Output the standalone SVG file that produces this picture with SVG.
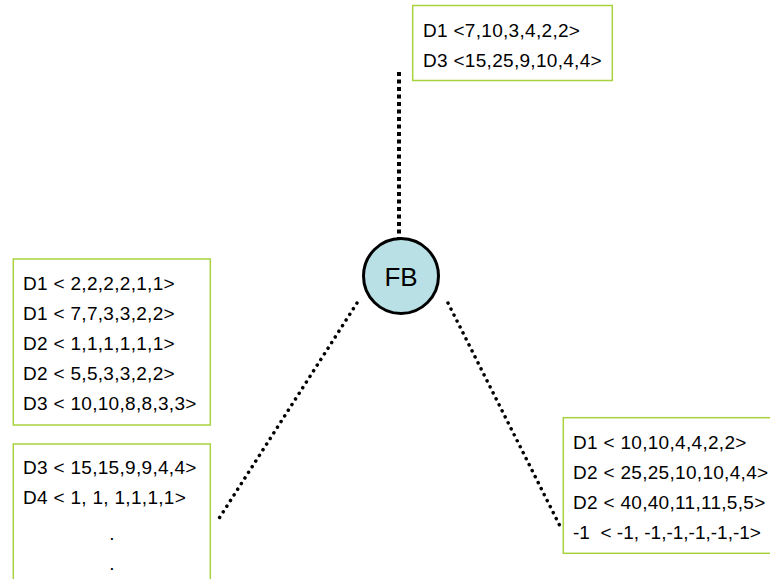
<svg xmlns="http://www.w3.org/2000/svg" width="770" height="579" viewBox="0 0 770 579">
  <style>
    .box { fill: #ffffff; stroke: #a8d23e; stroke-width: 1.5; }
    .lbl { font-family: "Liberation Sans", Arial, sans-serif; font-size: 19px; fill: #000000; letter-spacing: 0.3px; }
    .tight { letter-spacing: 0; }
    .dot { fill: none; stroke: #000000; stroke-width: 3.5; stroke-linecap: round; stroke-dasharray: 0.1 6.6; }
  </style>

  <!-- connectors from the FB node -->
  <g id="connectors">
    <line x1="399" y1="72" x2="399" y2="238" stroke="#000" stroke-width="4" stroke-dasharray="4 3.5"/>
    <line class="dot" x1="357" y1="303" x2="218" y2="520"/>
    <line class="dot" x1="448" y1="303" x2="561" y2="528"/>
  </g>

  <!-- central node -->
  <g id="node-fb">
    <circle cx="401" cy="276" r="37.5" fill="#b9e0e4" stroke="#000" stroke-width="3"/>
    <text x="401" y="285.5" text-anchor="middle" font-family="Liberation Sans, Arial, sans-serif" font-size="26">FB</text>
  </g>

  <!-- upper list -->
  <g id="node-top">
    <rect class="box" x="412.7" y="5.5" width="199.6" height="75"/>
    <text class="lbl" x="423" y="37">D1 &lt;7,10,3,4,2,2&gt;</text>
    <text class="lbl" x="423" y="67">D3 &lt;15,25,9,10,4,4&gt;</text>
  </g>

  <!-- left list, upper part -->
  <g id="node-left-a">
    <rect class="box" x="13.3" y="259" width="197" height="166"/>
    <text class="lbl" x="23" y="290">D1 &lt; 2,2,2,2,1,1&gt;</text>
    <text class="lbl" x="23" y="320">D1 &lt; 7,7,3,3,2,2&gt;</text>
    <text class="lbl" x="23" y="350">D2 &lt; 1,1,1,1,1,1&gt;</text>
    <text class="lbl" x="23" y="380">D2 &lt; 5,5,3,3,2,2&gt;</text>
    <text class="lbl" x="23" y="410">D3 &lt; 10,10,8,8,3,3&gt;</text>
  </g>

  <!-- left list, lower part -->
  <g id="node-left-b">
    <rect class="box" x="13.3" y="444" width="197" height="150"/>
    <text class="lbl" x="23" y="474">D3 &lt; 15,15,9,9,4,4&gt;</text>
    <text class="lbl" x="23" y="504">D4 &lt; 1, 1, 1,1,1,1&gt;</text>
    <text class="lbl" x="112" y="540" text-anchor="middle">.</text>
    <text class="lbl" x="112" y="570" text-anchor="middle">.</text>
  </g>

  <!-- right list -->
  <g id="node-right">
    <rect class="box" x="563.3" y="417.7" width="220" height="135.6"/>
    <text class="lbl" x="573" y="449">D1 &lt; 10,10,4,4,2,2&gt;</text>
    <text class="lbl" x="573" y="479">D2 &lt; 25,25,10,10,4,4&gt;</text>
    <text class="lbl" x="573" y="509">D2 &lt; 40,40,11,11,5,5&gt;</text>
    <text class="lbl tight" x="573" y="539">-1&#160; &lt; -1, -1,-1,-1,-1,-1&gt;</text>
  </g>
</svg>
